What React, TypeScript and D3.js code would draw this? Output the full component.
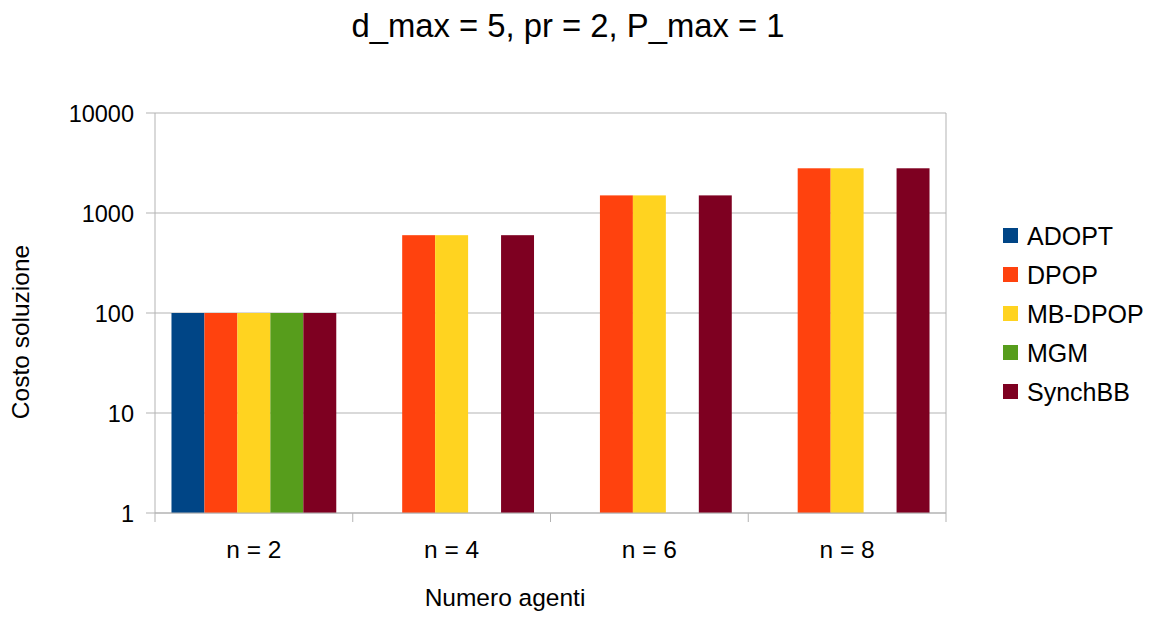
import React from "react";
import * as d3 from "d3";

const categories = ["n = 2", "n = 4", "n = 6", "n = 8"];
const seriesNames = ["ADOPT", "DPOP", "MB-DPOP", "MGM", "SynchBB"];
const colors = ["#004586", "#ff420e", "#ffd320", "#579d1c", "#7e0021"];
const ADOPT = [100, null, null, null];
const DPOP = [100, 600, 1500, 2800];
const MBDPOP = [100, 600, 1500, 2800];
const MGM = [100, null, null, null];
const SynchBB = [100, 600, 1500, 2800];
const yTicks = [1, 10, 100, 1000, 10000];

const seriesValues = [ADOPT, DPOP, MBDPOP, MGM, SynchBB];

export default function App() {
  const W = 1155, H = 617;
  const left = 155, right = 946, top = 113, bottom = 513;
  const x = d3.scaleBand().domain(categories).range([left, right]).paddingInner(0).paddingOuter(0);
  const inner = d3.scaleBand().domain(seriesNames).range([0, x.bandwidth()]).paddingInner(0).paddingOuter(0.5);
  const y = d3.scaleLog().domain([1, 10000]).range([bottom, top]);
  const font = "'Liberation Sans', Arial, sans-serif";
  return (
    <svg width={W} height={H} style={{ position: "absolute", left: 0, top: 0, background: "#fff" }} fontFamily={font}>
      <text x={568} y={37} textAnchor="middle" fontSize={32.8}>d_max = 5, pr = 2, P_max = 1</text>
      {yTicks.map((t) => (
        <g key={t}>
          <line x1={left - 9} x2={right} y1={y(t)} y2={y(t)} stroke="#b3b3b3" strokeWidth={1} />
          <text x={134} y={y(t) + 9} textAnchor="end" fontSize={23.5}>{t}</text>
        </g>
      ))}
      <line x1={left} x2={left} y1={top} y2={bottom} stroke="#b3b3b3" />
      <line x1={right} x2={right} y1={top} y2={bottom} stroke="#b3b3b3" />
      {categories.map((c, i) => (
        <g key={c}>
          {seriesValues.map((vals, s) => {
            const v = vals[i];
            if (v == null) return null;
            const bx = (x(c) as number) + (inner(seriesNames[s]) as number);
            return <rect key={s} x={bx} y={y(v)} width={inner.bandwidth()} height={bottom - y(v)} fill={colors[s]} />;
          })}
        </g>
      ))}
      {categories.concat(["end"]).map((c, i) => {
        const xx = left + i * x.bandwidth();
        return <line key={i} x1={xx} x2={xx} y1={bottom} y2={bottom + 9} stroke="#b3b3b3" />;
      })}
      <line x1={left} x2={right} y1={bottom} y2={bottom} stroke="#b3b3b3" />
      {categories.map((c) => (
        <text key={c} x={(x(c) as number) + x.bandwidth() / 2} y={558} textAnchor="middle" fontSize={24.5}>{c}</text>
      ))}
      <text x={505} y={606} textAnchor="middle" fontSize={24.5}>Numero agenti</text>
      <text transform="translate(29,332) rotate(-90)" textAnchor="middle" fontSize={24.5}>Costo soluzione</text>
      {seriesNames.map((n, s) => (
        <g key={n}>
          <rect x={1003} y={228 + s * 39} width={15} height={15} fill={colors[s]} />
          <text x={1027} y={245 + s * 39} fontSize={25}>{n}</text>
        </g>
      ))}
    </svg>
  );
}
